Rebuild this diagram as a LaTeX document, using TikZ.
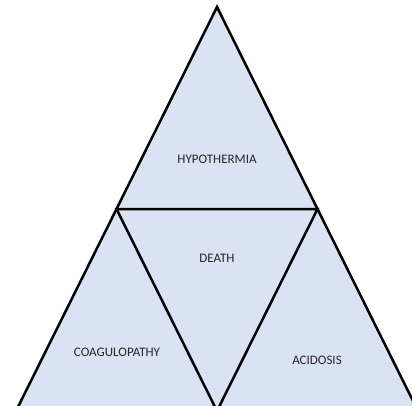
\documentclass[tikz,border=0pt]{standalone}
\usepackage{fontspec}
\setmainfont{Carlito}
\definecolor{fillblue}{HTML}{DAE3F3}
\begin{document}
\begin{tikzpicture}[x=1pt,y=-1pt,
  edge/.style={draw=black,line width=2.5pt,line join=miter},
  lbl/.style={font=\fontsize{13}{15}\selectfont,text=black!85,inner sep=0pt}]
\useasboundingbox (0,0) rectangle (412,406);
\clip (0,0) rectangle (412,406);
\coordinate (A) at (217,7);
\coordinate (L) at (16,411);
\coordinate (R) at (418,411);
\coordinate (ML) at (116.5,209);
\coordinate (MR) at (317.5,209);
\coordinate (MB) at (217,411);
\fill[fillblue] (A) -- (L) -- (R) -- cycle;
\draw[edge] (A) -- (L) -- (R) -- cycle;
\draw[edge] (ML) -- (MR) -- (MB) -- cycle;
\node[lbl] (hypo) at (217,159) {HYPOTHERMIA};
\node[lbl] (death) at (217,258) {DEATH};
\node[lbl] (coag) at (117,352) {COAGULOPATHY};
\node[lbl] (acid) at (317,360) {ACIDOSIS};
\end{tikzpicture}
\end{document}
